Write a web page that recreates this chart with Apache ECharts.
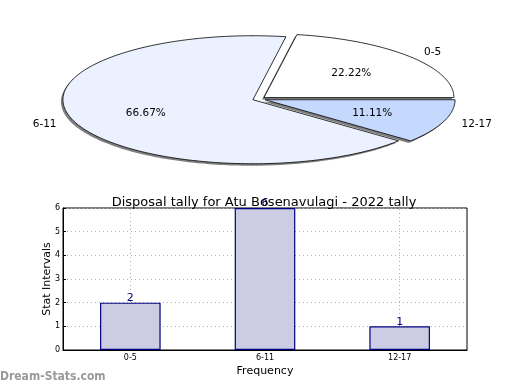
<!DOCTYPE html>
<html><head><meta charset="utf-8">
<script src="https://cdn.jsdelivr.net/npm/echarts@6/dist/echarts.min.js"></script>
<style>html,body{margin:0;padding:0;background:#fff}#c{width:520px;height:390px}</style>
</head><body><div id="c"></div>
<script>
const categories = ['0-5', '6-11', '12-17'];
const counts = [2, 6, 1];
const pieColors = ['#FFFFFF', '#EBF1FE', '#C5D8FE'];
const yTicks = [0, 1, 2, 3, 4, 5, 6];
const titleText = 'Disposal tally for Atu Bosenavulagi - 2022 tally';

const FONT = 'DejaVu Sans';
const total = counts.reduce((a, b) => a + b, 0);
const PIE = { cx: 259, cy: 99, rx: 190, ry: 64, explode: 0.034 };

function piePoint(t, dx, dy, f) {
  return [PIE.cx + dx + f * PIE.rx * Math.cos(t), PIE.cy + dy - f * PIE.ry * Math.sin(t)];
}

function renderSlice(params, api) {
  const i = params.dataIndex;
  let before = 0;
  for (let k = 0; k < i; k++) before += counts[k];
  const v = api.value(0);
  const t1 = 2 * Math.PI * before / total;
  const t2 = t1 + 2 * Math.PI * v / total;
  const mid = (t1 + t2) / 2;
  const dx = PIE.explode * PIE.rx * Math.cos(mid);
  const dy = -PIE.explode * PIE.ry * Math.sin(mid);
  const pts = [piePoint(0, dx, dy, 0)];
  const n = Math.max(8, Math.ceil((t2 - t1) / 0.02));
  for (let s = 0; s <= n; s++) pts.push(piePoint(t1 + (t2 - t1) * s / n, dx, dy, 1));
  const shadowPts = pts.map(p => [p[0] - 2, p[1] + 2]);
  const lp = piePoint(mid, dx, dy, 1.1);
  const pp = piePoint(mid, dx, dy, 0.6);
  return {
    type: 'group',
    children: [
      { type: 'polygon', z2: 0, shape: { points: shadowPts }, style: { fill: 'rgba(0,0,0,0.5)', stroke: null } },
      { type: 'polygon', z2: 10, shape: { points: pts }, style: { fill: pieColors[i], stroke: '#000', lineWidth: 0.8 } },
      { type: 'text', z2: 20, x: lp[0], y: lp[1], style: { text: categories[i], fill: '#000', font: '10.5px ' + FONT, align: Math.cos(mid) < 0 ? 'right' : 'left', verticalAlign: 'middle' } },
      { type: 'text', z2: 20, x: pp[0], y: pp[1], style: { text: (100 * v / total).toFixed(2) + '%', fill: '#000', font: '10.5px ' + FONT, align: 'center', verticalAlign: 'middle' } }
    ]
  };
}

const chart = echarts.init(document.getElementById('c'), null, { renderer: 'canvas' });
chart.setOption({
  animation: false,
  backgroundColor: '#fff',
  textStyle: { fontFamily: FONT },
  title: {
    text: titleText, left: 259, top: 191, textAlign: 'center',
    textStyle: { fontFamily: FONT, fontSize: 13, fontWeight: 'normal', color: '#000' }
  },
  graphic: [{
    type: 'text', left: 0, top: 371,
    style: { text: 'Dream-Stats.com', fill: '#999999', font: 'bold 12px "DejaVu Sans Condensed"' }
  }],
  grid: { left: 63, right: 53, top: 208, bottom: 40, show: true, borderColor: '#000', borderWidth: 1 },
  xAxis: {
    type: 'category', data: categories, boundaryGap: true,
    name: 'Frequency', nameLocation: 'middle', nameGap: 16, nameMoveOverlap: false,
    nameTextStyle: { fontFamily: FONT, fontSize: 11, color: '#000' },
    axisLine: { show: true, lineStyle: { color: '#000' } },
    axisTick: { show: false },
    axisLabel: { fontFamily: FONT, fontSize: 8, color: '#000', margin: 4 },
    splitLine: { show: false }
  },
  yAxis: {
    type: 'value', min: yTicks[0], max: yTicks[yTicks.length - 1], interval: 1,
    name: 'Stat Intervals', nameLocation: 'middle', nameGap: 10, nameMoveOverlap: false,
    nameTextStyle: { fontFamily: FONT, fontSize: 11, color: '#000' },
    axisLine: { show: true, lineStyle: { color: '#000' } },
    axisTick: { show: true, inside: true, length: 3, lineStyle: { color: '#000' } },
    axisLabel: { fontFamily: FONT, fontSize: 8, color: '#000', margin: 3 },
    splitLine: { show: true, lineStyle: { color: '#b0b0b0', type: [1, 3], width: 1 } }
  },
  series: [
    {
      type: 'custom', coordinateSystem: 'none', silent: true,
      data: counts.map(c => [c]),
      renderItem: renderSlice
    },
    {
      type: 'bar', data: counts, barWidth: '45%',
      itemStyle: { color: '#CCCCE5', borderColor: '#000080', borderWidth: 1.2 },
      label: { show: true, position: 'top', distance: -1, color: '#000080', fontFamily: FONT, fontSize: 11 },
      markLine: {
        silent: true, symbol: 'none', label: { show: false }, z: 1,
        lineStyle: { color: '#b0b0b0', type: [1, 3], width: 1 },
        data: categories.map(c => ({ xAxis: c }))
      }
    }
  ]
});
</script>
</body></html>
